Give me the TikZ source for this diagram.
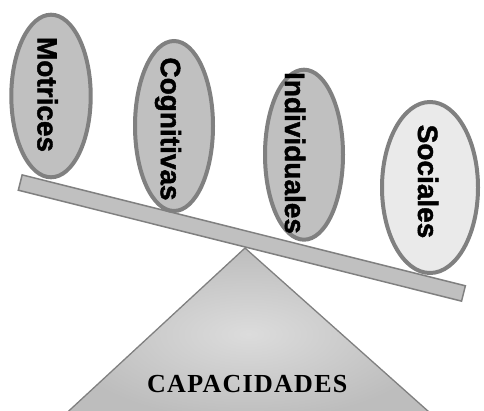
\documentclass[tikz,border=0pt]{standalone}
\usepackage{fontspec}
\setmainfont{Liberation Sans}
\newfontfamily\lblfont[FakeBold=1.5]{Liberation Sans Bold}
\newfontfamily\capfont[LetterSpace=5]{Liberation Serif Bold}
\usetikzlibrary{shapes.geometric}
\definecolor{edgegray}{HTML}{808080}
\definecolor{ellfill}{HTML}{C0C0C0}
\definecolor{ellfilllight}{HTML}{EAEAEA}
\definecolor{beamfill}{HTML}{C0C0C0}
\definecolor{tricenter}{HTML}{DCDCDC}
\definecolor{triouter}{HTML}{BDBDBD}
\begin{document}
\begin{tikzpicture}[x=1pt,y=-1pt,
  ell/.style={ellipse, draw=edgegray, line width=4pt, fill=ellfill, inner sep=0pt},
  lbl/.style={font=\lblfont\fontsize{28}{28}\selectfont, rotate=-90, inner sep=0pt},
  beamstyle/.style={rectangle, draw=edgegray, line width=1.5pt, fill=beamfill, inner sep=0pt},
  capstyle/.style={font=\capfont\fontsize{26}{26}\selectfont, inner sep=0pt}]
\useasboundingbox (0,0) rectangle (484,410);
\clip (0,0) rectangle (484,410);
% fulcrum
\coordinate (apex) at (245,248);
\coordinate (bl) at (59,420);
\coordinate (br) at (438,420);
\shadedraw[draw=edgegray, line width=1.3pt, inner color=tricenter, outer color=triouter]
  (apex) -- (br) -- (bl) -- cycle;
% beam
\node[beamstyle, rotate=-14.05, minimum width=456.9pt, minimum height=15.8pt] (beam) at (241.85,238) {};
% ellipses
\node[ell, minimum width=79.4pt, minimum height=162.6pt] (mot) at (51,96) {};
\node[ell, minimum width=78pt, minimum height=170pt] (cog) at (174,126) {};
\node[ell, minimum width=78pt, minimum height=170pt] (ind) at (304,154.7) {};
\node[ell, fill=ellfilllight, minimum width=96pt, minimum height=171pt] (soc) at (430,187.5) {};
% labels
\node[lbl] (tmot) at (47.5,94.5) {Motrices};
\node[lbl] (tcog) at (168,129) {Cognitivas};
\node[lbl] (tind) at (295,153) {Individuales};
\node[lbl] (tsoc) at (428,181.5) {Sociales};
\node[capstyle] (cap) at (247.3,384) {CAPACIDADES};
\end{tikzpicture}
\end{document}
